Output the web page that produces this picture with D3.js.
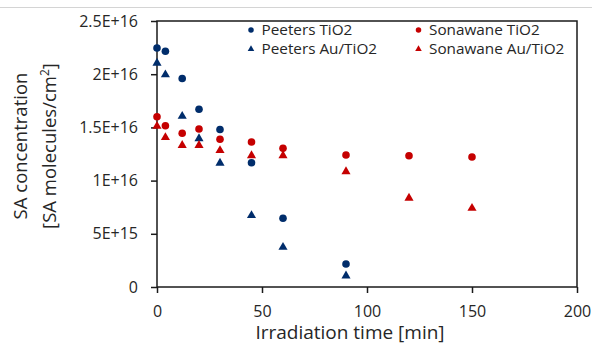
<!DOCTYPE html>
<html>
<head>
<meta charset="utf-8">
<script src="https://cdn.jsdelivr.net/npm/d3@7"></script>
<style>
  body { margin: 0; background: #fff; }
  svg { display: block; font-family: "Open Sans", sans-serif; }
</style>
</head>
<body>
<svg id="chart" width="592" height="354"></svg>
<script>
// Irradiation times [min]
const peetersTimes = [0, 4, 12, 20, 30, 45, 60, 90];
const sonawaneTimes = [0, 4, 12, 20, 30, 45, 60, 90, 120, 150];

// SA concentration [molecules/cm2]
const peetersTiO2 = [2.246e16, 2.215e16, 1.96e16, 1.67e16, 1.48e16, 1.168e16, 0.646e16, 0.216e16];
const peetersAuTiO2 = [2.11e16, 2.0e16, 1.61e16, 1.40e16, 1.17e16, 0.677e16, 0.379e16, 0.11e16];
const sonawaneTiO2 = [1.60e16, 1.516e16, 1.445e16, 1.485e16, 1.388e16, 1.363e16, 1.303e16, 1.24e16, 1.234e16, 1.222e16];
const sonawaneAuTiO2 = [1.516e16, 1.41e16, 1.337e16, 1.337e16, 1.288e16, 1.24e16, 1.24e16, 1.09e16, 0.84e16, 0.745e16];

const xTicks = [0, 50, 100, 150, 200];
const yTicks = [0, 5e15, 1e16, 1.5e16, 2e16, 2.5e16];
const yTickLabels = ["0", "5E+15", "1E+16", "1.5E+16", "2E+16", "2.5E+16"];

const BLUE = "#002d6b";
const RED = "#c50000";

const series = [
  { name: "Peeters TiO2", x: peetersTimes, y: peetersTiO2, color: BLUE, shape: "circle" },
  { name: "Sonawane TiO2", x: sonawaneTimes, y: sonawaneTiO2, color: RED, shape: "circle" },
  { name: "Peeters Au/TiO2", x: peetersTimes, y: peetersAuTiO2, color: BLUE, shape: "triangle" },
  { name: "Sonawane Au/TiO2", x: sonawaneTimes, y: sonawaneAuTiO2, color: RED, shape: "triangle" },
];

const W = 592, H = 354;
const m = { left: 157, right: 15, top: 21, bottom: 67 };
const svg = d3.select("#chart");

// faint outer chart border (only top edge visible)
svg.append("line")
  .attr("x1", 0).attr("x2", W).attr("y1", 7.5).attr("y2", 7.5)
  .attr("stroke", "#d4d4d4").attr("stroke-width", 1);

const x = d3.scaleLinear().domain([0, 200]).range([m.left, W - m.right]);
const y = d3.scaleLinear().domain([0, 2.5e16]).range([H - m.bottom, m.top]);

const axisColor = "#1a1a1a";

// plot frame
svg.append("rect")
  .attr("x", x(0)).attr("y", y(2.5e16))
  .attr("width", x(200) - x(0)).attr("height", y(0) - y(2.5e16))
  .attr("fill", "none").attr("stroke", axisColor).attr("stroke-width", 1.5);

const yAxis = svg.append("g")
  .attr("transform", `translate(${x(0)},0)`)
  .call(d3.axisLeft(y).tickValues(yTicks).tickSize(6).tickPadding(13)
    .tickFormat((d, i) => yTickLabels[i]));

const xAxis = svg.append("g")
  .attr("transform", `translate(0,${y(0)})`)
  .call(d3.axisBottom(x).tickValues(xTicks).tickSize(6).tickPadding(13));

[xAxis, yAxis].forEach((g) => {
  g.select(".domain").remove();
  g.selectAll(".tick line").attr("stroke", axisColor).attr("stroke-width", 1.5);
  g.selectAll(".tick text")
    .attr("fill", "#262626")
    .attr("font-size", 16)
    .attr("font-family", "Open Sans, sans-serif");
});

function drawMarker(g, shape, cx, cy, color, scale = 1) {
  if (shape === "circle") {
    g.append("circle").attr("cx", cx).attr("cy", cy).attr("r", 3.8 * scale).attr("fill", color);
  } else {
    g.append("path")
      .attr("d", d3.symbol().type(d3.symbolTriangle).size(36 * scale * scale)())
      .attr("transform", `translate(${cx},${cy + 0.5})`)
      .attr("fill", color);
  }
}

const pts = svg.append("g");
series.forEach((s) => {
  s.x.forEach((t, i) => drawMarker(pts, s.shape, x(t), y(s.y[i]), s.color));
});

// legend
const leg = svg.append("g");
const legPos = [
  { mx: 251, ty: 30 },
  { mx: 418.5, ty: 30 },
  { mx: 251, ty: 48.5 },
  { mx: 418.5, ty: 48.5 },
];
series.forEach((s, i) => {
  const p = legPos[i];
  drawMarker(leg, s.shape, p.mx, p.ty, s.color, 0.72);
  leg.append("text")
    .attr("x", p.mx + 10.5).attr("y", p.ty + 5.4)
    .attr("font-size", 15.3)
    .attr("fill", "#262626")
    .text(s.name);
});

// axis titles
svg.append("text")
  .attr("x", (x(0) + x(200)) / 2 - 17).attr("y", 339)
  .attr("text-anchor", "middle")
  .attr("font-size", 19)
  .attr("fill", "#262626")
  .text("Irradiation time [min]");

const yt = svg.append("text")
  .attr("transform", `translate(0,146) rotate(-90)`)
  .attr("text-anchor", "middle")
  .attr("font-size", 18.5)
  .attr("fill", "#262626");
yt.append("tspan").attr("x", 0).attr("y", 27).text("SA concentration");
const t2 = yt.append("tspan").attr("x", 0).attr("y", 56).text("[SA molecules/cm");
t2.append("tspan").attr("font-size", 12).attr("dy", -7).text("2");
t2.append("tspan").attr("dy", 7).text("]");
</script>
</body>
</html>
